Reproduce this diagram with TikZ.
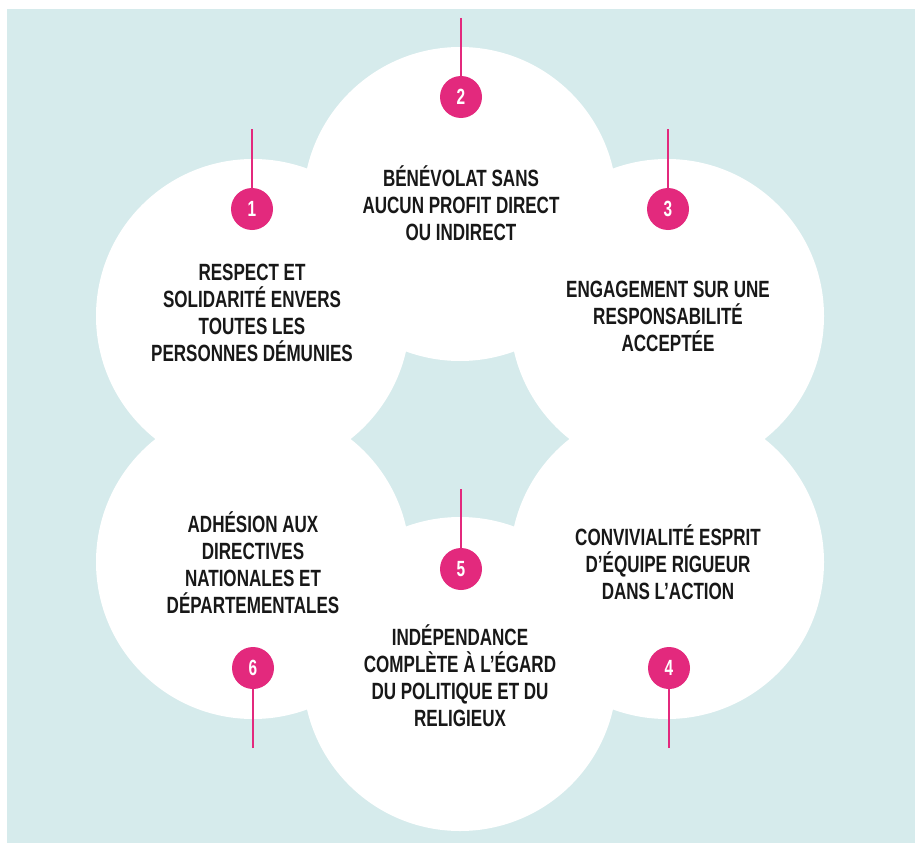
\documentclass[tikz,border=0pt]{standalone}
\usepackage{fontspec}
\newfontfamily\condfont[FakeStretch=0.725]{Liberation Sans}
\newfontfamily\numcondfont[FakeStretch=0.7]{Liberation Sans}
\definecolor{pinkc}{RGB}{227,41,125}
\definecolor{bgc}{RGB}{214,235,236}
\definecolor{textc}{RGB}{24,24,24}
\newcommand{\txtfont}{\condfont\bfseries\fontsize{23.5}{27}\selectfont}
\newcommand{\numfont}{\numcondfont\bfseries\fontsize{22}{24}\selectfont}
\begin{document}
\begin{tikzpicture}[x=1pt,y=-1pt,
  blob/.style={circle,fill=white,minimum size=314pt,inner sep=0pt},
  badge/.style={circle,fill=pinkc,minimum size=42pt,inner sep=0pt,text=white,font=\numfont},
  caption/.style={align=center,text=textc,font=\txtfont,inner sep=0pt},
  stem/.style={draw=pinkc,line width=2.6pt}]
\useasboundingbox (0,0) rectangle (915,843);
\fill[bgc] (7,9) rectangle (915,843);
% big circles
\node[blob] (c1) at (253,316) {};
\node[blob] (c2) at (460,204) {};
\node[blob] (c3) at (667,316) {};
\node[blob] (c4) at (667,562) {};
\node[blob] (c5) at (460,674) {};
\node[blob] (c6) at (253,562) {};
% badges
\node[badge] (b1) at (252,209) {1};
\node[badge] (b2) at (461,97) {2};
\node[badge] (b3) at (668,209) {3};
\node[badge] (b4) at (669,668) {4};
\node[badge] (b5) at (461,569) {5};
\node[badge] (b6) at (253,668) {6};
% stem ends
\coordinate (s1) at (252,129);
\coordinate (s2) at (461,18);
\coordinate (s3) at (668,129);
\coordinate (s4) at (669,748);
\coordinate (s5) at (461,489);
\coordinate (s6) at (253,748);
\draw[stem] (s1) -- (b1);
\draw[stem] (s2) -- (b2);
\draw[stem] (s3) -- (b3);
\draw[stem] (s4) -- (b4);
\draw[stem] (s5) -- (b5);
\draw[stem] (s6) -- (b6);
% texts
\node[caption] (t1) at (252,313) {RESPECT ET\\SOLIDARITÉ ENVERS\\TOUTES LES\\PERSONNES DÉMUNIES};
\node[caption] (t2) at (461,203) {BÉNÉVOLAT SANS\\AUCUN PROFIT DIRECT\\OU INDIRECT};
\node[caption] (t3) at (668,316) {ENGAGEMENT SUR UNE\\RESPONSABILITÉ\\ACCEPTÉE};
\node[caption] (t4) at (668,562) {CONVIVIALITÉ ESPRIT\\D’ÉQUIPE RIGUEUR\\DANS L’ACTION};
\node[caption] (t5) at (460,676) {INDÉPENDANCE\\COMPLÈTE À L’ÉGARD\\DU POLITIQUE ET DU\\RELIGIEUX};
\node[caption] (t6) at (253,563) {ADHÉSION AUX\\DIRECTIVES\\NATIONALES ET\\DÉPARTEMENTALES};
\end{tikzpicture}
\end{document}
